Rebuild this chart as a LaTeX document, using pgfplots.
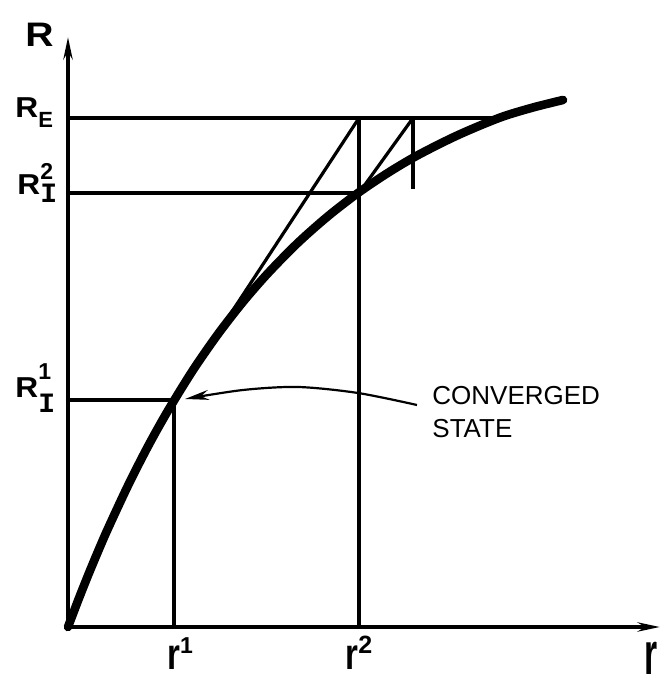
\documentclass[border=0pt]{standalone}
\usepackage{pgfplots}
\pgfplotsset{compat=1.18}
\usepackage{fontspec}
\setmainfont{Liberation Sans}
\newfontfamily\monof{Liberation Mono}
\usetikzlibrary{arrows.meta}
\begin{document}
\begin{tikzpicture}
\begin{axis}[name=ax, hide axis, clip=false, enlargelimits=false,
  x=0.5pt, y=0.5pt, xmin=-68, xmax=597, ymin=-56, ymax=627]
% axes
\addplot[black, line width=2pt, -{Stealth[length=11pt,width=4.5pt]}] coordinates {(0,0) (592,0)};
\addplot[black, line width=2pt, -{Stealth[length=11pt,width=4.5pt]}] coordinates {(0,0) (0,590)};
% construction lines
\addplot[black, line width=1.6pt] coordinates {(0,509) (432,509)};
\addplot[black, line width=1.6pt] coordinates {(0,434) (291,434)};
\addplot[black, line width=1.6pt] coordinates {(0,227) (106,227)};
\addplot[black, line width=1.6pt] coordinates {(106,0) (106,227)};
\addplot[black, line width=1.6pt] coordinates {(291,0) (291,509)};
\addplot[black, line width=1.6pt] coordinates {(345,438) (345,509)};
\addplot[black, line width=1.6pt] coordinates {(106,227) (291,509)};
\addplot[black, line width=1.6pt] coordinates {(291,434) (345,509)};
% main curve
\addplot[black, line width=4.3pt, line cap=round, smooth] coordinates {
(0,0) (10,26.3) (20,51.5) (30,75.5) (40,98.5) (60,141.4) (80,180.7) (100,216.4)
(125,256.9) (150,292.9) (175,325.1) (200,353.8) (230,384.3) (260,410.8) (290,434)
(320,454.2) (350,471.9) (390,491.9) (432,509.4) (465,519.5) (495,527)};
% converged arrow
\addplot[black, line width=1.1pt, smooth, -{Stealth[length=12pt,width=5pt]}] coordinates {
(349,222) (290,234) (230,240) (175,237) (117,228)};
% labels
\node[anchor=base west, inner sep=0] at (axis cs:364,222) {\fontsize{13}{13}\selectfont CONVERGED};
\node[anchor=base west, inner sep=0] at (axis cs:364,189) {\fontsize{13}{13}\selectfont STATE};
\node[anchor=base west, inner sep=0] at (axis cs:-43,580) {\scalebox{1.15}[1]{\fontsize{17}{17}\selectfont\bfseries R}};
\node[anchor=base west, inner sep=0] at (axis cs:-53,509) {\fontsize{14.4}{14}\selectfont\bfseries \scalebox{1.1}[1]{R}\raisebox{-5pt}{\fontsize{11}{11}\selectfont E}};
\node[anchor=base west, inner sep=0] at (axis cs:-51,432) {\fontsize{14.4}{14}\selectfont\bfseries \scalebox{1.1}[1]{R}\makebox[0pt][l]{\raisebox{7.5pt}{\fontsize{11.5}{11}\selectfont 2}}\raisebox{-4pt}{\fontsize{14}{14}\monof\bfseries I}};
\node[anchor=base west, inner sep=0] at (axis cs:-53,229) {\fontsize{14.4}{14}\selectfont\bfseries \scalebox{1.1}[1]{R}\makebox[0pt][l]{\raisebox{9pt}{\fontsize{11.5}{11}\selectfont 1}}\raisebox{-7.5pt}{\fontsize{14}{14}\monof\bfseries I}};
\node[anchor=base west, inner sep=0] at (axis cs:99,-43) {\bfseries\scalebox{0.75}[1]{\fontsize{22}{22}\selectfont\bfseries r}\raisebox{8pt}{\fontsize{11.5}{11}\selectfont\bfseries 1}};
\node[anchor=base west, inner sep=0] at (axis cs:277,-43) {\bfseries\scalebox{0.75}[1]{\fontsize{22}{22}\selectfont\bfseries r}\raisebox{8pt}{\fontsize{12.5}{12}\selectfont\bfseries 2}};
\node[anchor=base west, inner sep=0] at (axis cs:576,-47) {\scalebox{0.56}[1]{\fontsize{30}{30}\selectfont\bfseries r}};
\end{axis}
\pgfresetboundingbox
\path[use as bounding box] (ax.south west) rectangle (ax.north east);
\end{tikzpicture}
\end{document}
